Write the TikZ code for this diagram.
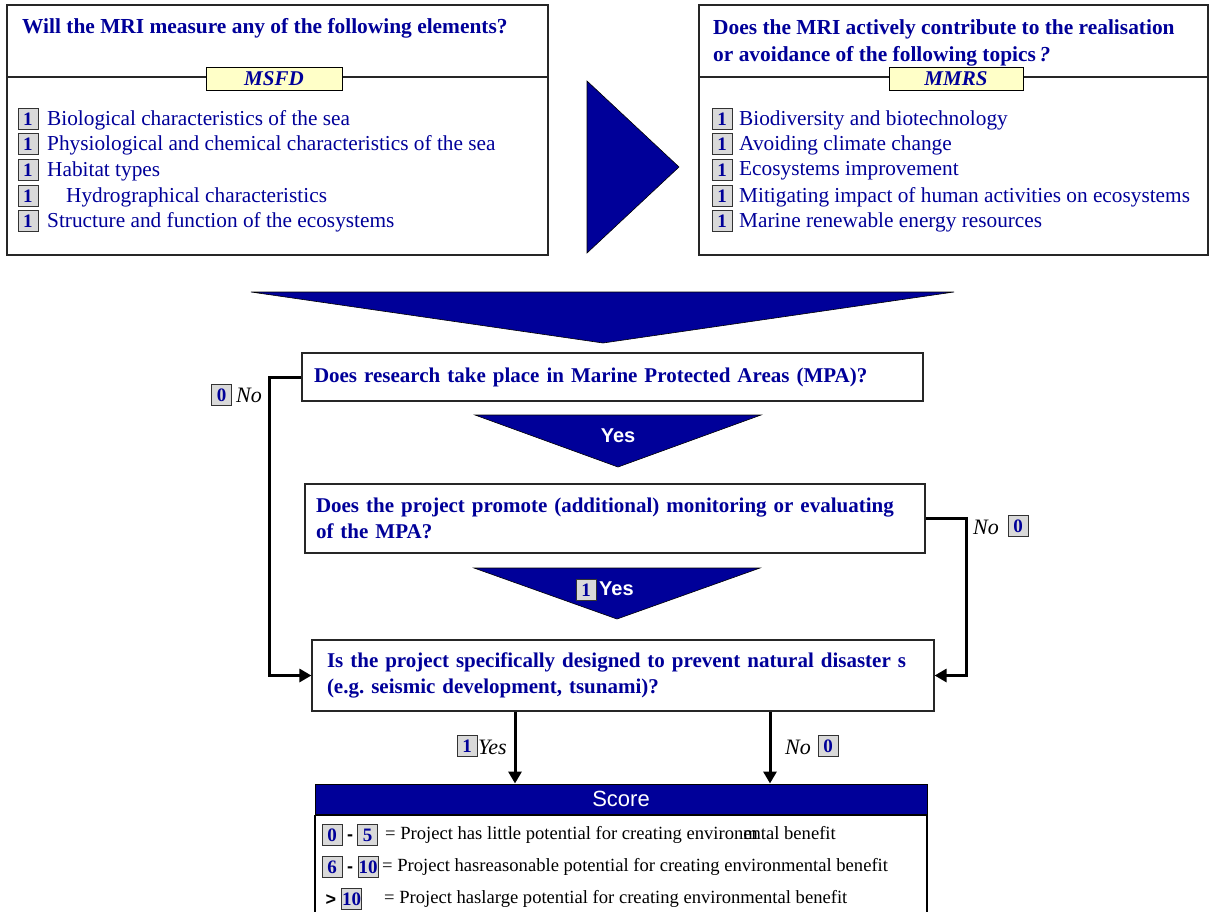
\documentclass[tikz,border=0pt]{standalone}
\usepackage{fontspec}
\setmainfont{Liberation Serif}
\setsansfont{Liberation Sans}
\usetikzlibrary{arrows.meta}
\definecolor{navy}{RGB}{0,0,153}
\definecolor{labfill}{RGB}{255,255,200}
\definecolor{numfill}{RGB}{217,217,217}
\frenchspacing
\tikzset{
  frame/.style={draw=black!85, line width=1.2pt, fill=white, inner sep=0pt},
  numbox/.style={draw=black!80, line width=0.9pt, fill=numfill, font=\fontsize{19}{19}\selectfont\bfseries, text=navy, minimum width=20pt, minimum height=21pt, inner sep=0.3pt},
  item/.style={anchor=west, font=\fontsize{21.3}{21.3}\selectfont, text=navy, inner sep=0pt},
  ttl/.style={anchor=west, font=\fontsize{21.4}{27}\selectfont\bfseries, text=navy, align=left, inner sep=0pt},
  tag/.style={draw=black, line width=1pt, fill=labfill, font=\fontsize{21}{21}\selectfont\bfseries\itshape, text=navy, minimum height=23pt, inner sep=0pt},
  qbox/.style={draw=black!85, line width=1.2pt, fill=white, font=\fontsize{21}{25.5}\selectfont\bfseries, text=navy, align=left, inner ysep=0pt},
  tri/.style={fill=navy, draw=black, line width=0.6pt},
  conn/.style={draw=black, line width=3pt, -{Triangle[length=12pt,width=13pt]}},
  lbl/.style={font=\fontsize{22}{22}\selectfont\itshape, text=black, inner sep=0pt},
  yeslbl/.style={font=\sffamily\bfseries\fontsize{20}{20}\selectfont, text=white, inner sep=0pt},
  rowtext/.style={anchor=west, font=\fontsize{18.6}{18.6}\selectfont, text=black, inner sep=0pt},
  sym/.style={anchor=base, font=\sffamily\bfseries\fontsize{18}{18}\selectfont, text=black, inner sep=0pt}
}
\begin{document}
\begin{tikzpicture}[x=1pt,y=-1pt]
\useasboundingbox (0,0) rectangle (1216,911);
% ---------- left box ----------
\node[frame, minimum width=541pt, minimum height=250pt] (lbox) at (277.5,130) {};
\draw[black!85, line width=1.2pt] (lbox.west |- 0,77) -- (lbox.east |- 0,77);
\node[ttl] (ltitle) at (22,28.5) {Will the MRI measure any of the following elements?};
\node[tag, minimum width=136pt] (msfd) at (274,78.5) {MSFD};
\node[numbox] (l1) at (28,119) {1};
\node[item] (lt1) at (47,120) {Biological characteristics of the sea};
\node[numbox] (l2) at (28,144) {1};
\node[item] (lt2) at (47,145) {Physiological and chemical characteristics of the sea};
\node[numbox] (l3) at (28,170) {1};
\node[item] (lt3) at (47,171) {Habitat types};
\node[numbox] (l4) at (28,196) {1};
\node[item] (lt4) at (66,197) {Hydrographical characteristics};
\node[numbox] (l5) at (28,221) {1};
\node[item] (lt5) at (47,222) {Structure and function of the ecosystems};
% ---------- right box ----------
\node[frame, minimum width=509pt, minimum height=250pt] (rbox) at (953.5,130) {};
\draw[black!85, line width=1.2pt] (rbox.west |- 0,77) -- (rbox.east |- 0,77);
\node[ttl] (rtitle) at (713,43) {Does the MRI actively contribute to the realisation\\or avoidance of the following topics\,\textit{?}};
\node[tag, minimum width=134pt] (mmrs) at (956,78.5) {MMRS};
\node[numbox] (r1) at (722,119) {1};
\node[item] (rt1) at (739,120) {Biodiversity and biotechnology};
\node[numbox] (r2) at (722,144) {1};
\node[item] (rt2) at (739,145) {Avoiding climate change};
\node[numbox] (r3) at (722,170) {1};
\node[item] (rt3) at (739,171) {Ecosystems improvement};
\node[numbox] (r4) at (722,196) {1};
\node[item] (rt4) at (739,197) {Mitigating impact of human activities on ecosystems};
\node[numbox] (r5) at (722,221) {1};
\node[item] (rt5) at (739,222) {Marine renewable energy resources};
% ---------- big arrows ----------
\draw[tri] (587,81) -- (679,167) -- (587,253) -- cycle;
\draw[tri] (251,292) -- (954,292) -- (603,343) -- cycle;
% ---------- questions ----------
\node[qbox, minimum width=621pt, minimum height=48pt, text width=597pt, inner xsep=12pt] (q1) at (612.5,377) {Does research take place in Marine Protected Areas (MPA)?};
\draw[tri] (475,415) -- (761,415) -- (618,467) -- cycle;
\node[yeslbl] (yes1) at (618,436) {Yes};
\node[qbox, minimum width=620pt, minimum height=69pt, text width=598pt, inner xsep=11pt] (q2) at (615,518.5) {Does the project promote (additional) monitoring or evaluating\\of the MPA?};
\draw[tri] (474,568) -- (760,568) -- (617,619) -- cycle;
\node[numbox] (yes2n) at (586,590) {1};
\node[yeslbl, anchor=west] (yes2) at (599,589) {Yes};
\node[qbox, minimum width=622pt, minimum height=71pt, text width=592pt, inner xsep=15pt] (q3) at (623,675.5) {Is the project specifically designed to prevent natural disaster s\\(e.g. seismic development, tsunami)?};
% ---------- No connectors ----------
\draw[conn] (q1.west) -- (269,377) |- (q3.west);
\node[numbox] (n1n) at (221.5,395) {0};
\node[lbl, anchor=west] (n1) at (236,395) {No};
\draw[conn] (q2.east) -- (966,518.5) |- (q3.east);
\node[lbl, anchor=west] (n2) at (973,527) {No};
\node[numbox] (n2n) at (1018,526) {0};
% ---------- score ----------
\node[fill=navy, draw=black, line width=1pt, minimum width=612pt, minimum height=30pt, inner sep=0pt, text=white, font=\sffamily\fontsize{22}{22}\selectfont] (score) at (621,799) {Score};
\node[draw=black, line width=1.2pt, minimum width=612pt, minimum height=110pt, anchor=north, inner sep=0pt] (scorebody) at (score.south) {};
\coordinate (ya) at (515,0);
\coordinate (na) at (770,0);
\draw[conn] (q3.south -| ya) -- (score.north -| ya);
\draw[conn] (q3.south -| na) -- (score.north -| na);
\node[numbox] (y3n) at (467,746) {1};
\node[lbl, anchor=west] (y3) at (478,747) {Yes};
\node[lbl, anchor=west] (n3) at (785,747) {No};
\node[numbox] (n3n) at (828,746) {0};
% rows
\node[numbox] (s0) at (332,835) {0};
\node[sym] (d1) at (350,840) {-};
\node[numbox] (s5) at (367.5,835) {5};
\node[rowtext] (t1) at (385,835) {= Project has little potential for creating environ\rlap{m}ental benefit};
\node[numbox] (s6) at (332,867) {6};
\node[sym] (d2) at (350,872) {-};
\node[numbox] (s10) at (368,867) {10};
\node[rowtext] (t2) at (382,867) {= Project hasreasonable potential for creating environmental benefit};
\node[sym] (gt) at (331,905) {>};
\node[numbox] (s10b) at (351.5,899) {10};
\node[rowtext] (t3) at (384,899) {= Project haslarge potential for creating environmental benefit};
\end{tikzpicture}
\end{document}
